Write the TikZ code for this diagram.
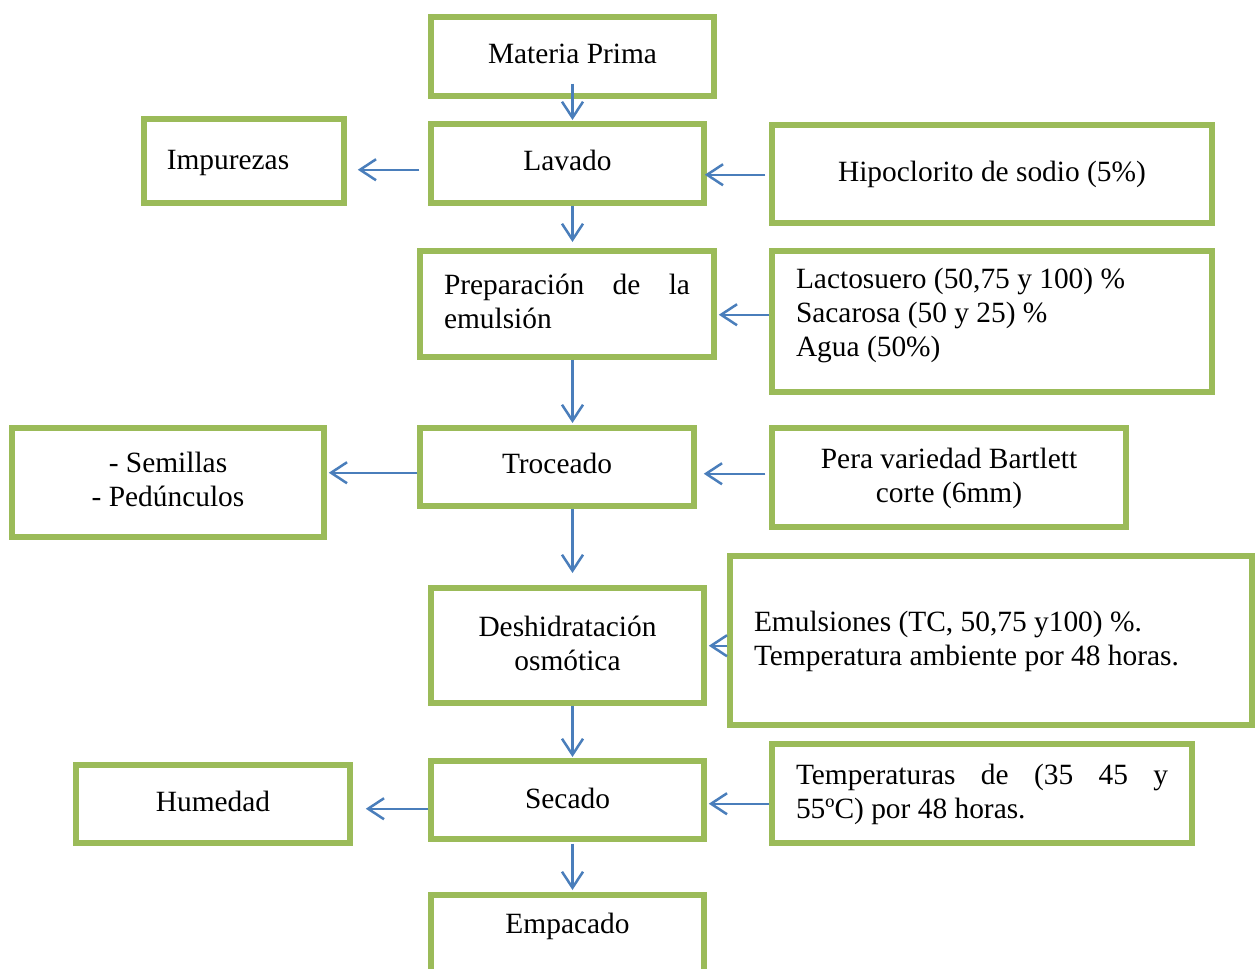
\documentclass[tikz,border=0pt]{standalone}
\usepackage{fontspec}
\setmainfont{Liberation Serif}
\usetikzlibrary{arrows.meta}
\definecolor{boxgreen}{HTML}{9BBB59}
\definecolor{arrblue}{HTML}{4A7EBB}
\frenchspacing
\begin{document}
\begin{tikzpicture}[x=0.5pt,y=-0.5pt,
  box/.style={draw=boxgreen, line width=2.75pt, inner sep=0pt, anchor=north,
    font=\fontsize{14.7pt}{17pt}\selectfont,
    execute at begin node={\spaceskip=0pt\relax\xspaceskip=0pt\relax}},
  arr/.style={draw=arrblue, line width=1.25pt, -{Straight Barb[length=8pt,width=10.5pt]}}]
\useasboundingbox (0,0) rectangle (1259,969);
\node[box, minimum width=141.5pt, text height=23.5pt, text depth=16pt] (mp) at (572.5,14) {Materia Prima};
\node[box, minimum width=136.5pt, text height=23.5pt, text depth=16pt] (lav) at (567.5,121) {Lavado};
\node[box, minimum width=100pt, text height=25.5pt, text depth=16.5pt] (imp) at (244,116) {Impurezas\hspace*{16pt}};
\node[box, minimum width=220pt, text height=28.5pt, text depth=20.5pt] (hip) at (992,122) {Hipoclorito de sodio (5\%)};
\node[box, minimum width=147pt, text height=22pt, text depth=31pt, text width=123pt, align=left] (prep) at (567,248) {\makebox[123pt][s]{Preparación\hfill de\hfill la}\\emulsión};
\node[box, minimum width=220pt, text height=19pt, text depth=51.5pt, text width=196pt, align=left] (lac) at (992,248) {Lactosuero (50,75 y 100) \%\\Sacarosa (50 y 25) \%\\Agua (50\%)};
\node[box, minimum width=156pt, text height=22.5pt, text depth=32pt, text width=156pt, align=flush center] (sem) at (168,425) {- Semillas\\- Pedúnculos};
\node[box, minimum width=137pt, text height=23pt, text depth=16pt] (tro) at (557,425) {Troceado};
\node[box, minimum width=177pt, text height=20.5pt, text depth=29pt, text width=177pt, align=flush center] (pera) at (949,425) {Pera variedad Bartlett\\corte (6mm)};
\node[box, minimum width=136.5pt, text height=24.5pt, text depth=33pt, text width=136.5pt, align=flush center] (desh) at (567.5,585) {Deshidratación\\osmótica};
\node[box, minimum width=261pt, text height=38pt, text depth=46.5pt, text width=237pt, align=left] (emu) at (991,553) {Emulsiones (TC, 50,75 y100) \%.\\Temperatura ambiente por 48 horas.};
\node[box, minimum width=137pt, text height=23.5pt, text depth=15.5pt] (hum) at (213,762) {Humedad};
\node[box, minimum width=136.5pt, text height=24pt, text depth=15pt] (sec) at (567.5,758) {Secado};
\node[box, minimum width=210pt, text height=20.5pt, text depth=29pt, text width=186pt, align=left] (temp) at (982,741) {\makebox[186pt][s]{Temperaturas\hfill de\hfill (35\hfill 45\hfill y}\\55ºC) por 48 horas.};
\node[box, minimum width=136.5pt, text height=19.5pt, text depth=60pt] (emp) at (567.5,892) {Empacado};
\draw[arr, shorten <=-7.5pt, shorten >=0.5pt] (mp.south) -- (lav.north -| mp.south);
\draw[arr, shorten <=4.5pt, shorten >=5.5pt] ([yshift=-3.25pt]lav.west) coordinate (a1) -- (a1 -| imp.east);
\draw[arr, shorten <=2pt, shorten >=-1pt] ([yshift=-0.5pt]hip.west) coordinate (a0) -- (a0 -| lav.east);
\draw[arr, shorten >=3pt] (lav.south -| mp.south) -- (prep.north -| mp.south);
\draw[arr, shorten >=1pt] ([yshift=3.25pt]lac.west) coordinate (a2) -- (a2 -| prep.east);
\draw[arr, shorten >=1pt] (prep.south -| mp.south) -- (tro.north -| mp.south);
\draw[arr, shorten >=1pt] ([yshift=-3pt]tro.west) coordinate (a3) -- (a3 -| sem.east);
\draw[arr, shorten <=2pt, shorten >=3.5pt] ([yshift=1.75pt]pera.west) coordinate (a4) -- (a4 -| tro.east);
\draw[arr, shorten >=6pt] (tro.south -| mp.south) -- (desh.north -| mp.south);
\draw[arr, shorten >=1pt] ([yshift=-2.75pt]emu.west) coordinate (a5) -- (a5 -| desh.east);
\draw[arr, shorten >=0.5pt] (desh.south -| mp.south) -- (sec.north -| mp.south);
\draw[arr, shorten >=1pt] ([yshift=-5.25pt]temp.west) coordinate (a6) -- (a6 -| sec.east);
\draw[arr, shorten >=6.5pt] ([yshift=-4.5pt]sec.west) coordinate (a7) -- (a7 -| hum.east);
\draw[arr, shorten <=1pt, shorten >=1pt] (sec.south -| mp.south) -- (emp.north -| mp.south);
\end{tikzpicture}
\end{document}
